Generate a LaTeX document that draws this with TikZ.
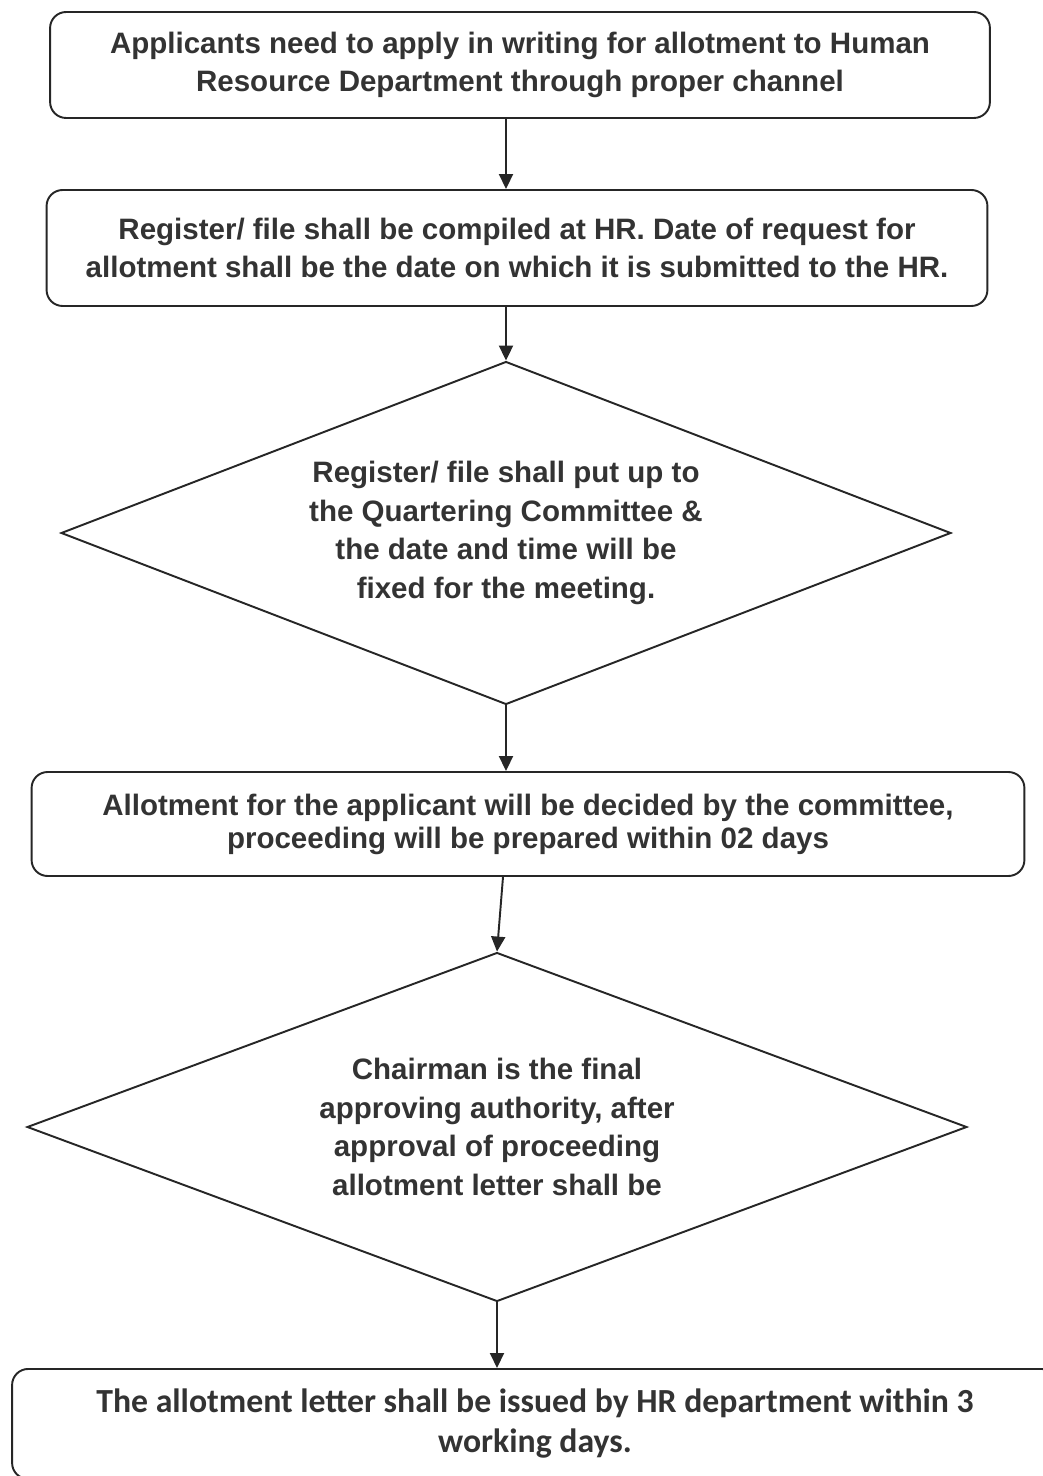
\documentclass[tikz,border=0pt]{standalone}
\usepackage{fontspec}
\setmainfont{Liberation Sans}
\newfontfamily\calfont{Carlito}
\usetikzlibrary{shapes.geometric,arrows.meta}

\tikzset{
  ink/.style={draw=black!85, line width=1.1pt},
  stepbox/.style={ink, rounded corners=0.32cm, align=center, inner sep=0pt,
    text=black!80, font=\fontsize{16.8}{21.7}\selectfont\bfseries},
  decision/.style={ink, diamond, aspect=2.6, align=center, inner sep=0pt,
    text=black!80, font=\fontsize{16.8}{21.9}\selectfont\bfseries},
  flow/.style={ink, -{Triangle[length=0.3cm,width=0.28cm]}}
}

\begin{document}
\begin{tikzpicture}[x=0.02cm,y=-0.02cm]
\clip (0,0) rectangle (1043,1476);

\node[stepbox, minimum width=18.8cm, minimum height=2.12cm] (b1) at (520,65)
  {Applicants need to apply in writing for allotment to Human\\
   Resource Department through proper channel};

\node[stepbox, minimum width=18.82cm, minimum height=2.32cm] (b2) at (517,248)
  {Register/ file shall be compiled at HR. Date of request for\\
   allotment shall be the date on which it is submitted to the HR.};

\node[decision, minimum width=17.8cm, minimum height=6.86cm] (d1) at (506,533)
  {Register/ file shall put up to\\
   the Quartering Committee \&\\
   the date and time will be\\
   fixed for the meeting.};

\node[stepbox, minimum width=19.86cm, minimum height=2.08cm,
  font=\fontsize{16.8}{18.8}\selectfont\bfseries] (b3) at (528,824)
  {Allotment for the applicant will be decided by the committee,\\
   proceeding will be prepared within 02 days};

\node[decision, minimum width=18.8cm, minimum height=6.98cm] (d2) at (497,1127)
  {Chairman is the final\\
   approving authority, after\\
   approval of proceeding\\
   allotment letter shall be};

\node[stepbox, minimum width=20.92cm, minimum height=2.2cm, anchor=north,
  font=\fontsize{19.2}{22.8}\selectfont\calfont\bfseries] (b4) at (535,1368)
  {The allotment letter shall be issued by HR department within 3\\
   working days.};

% connectors
\draw[flow] (b1.south -| d1.north) -- (b2.north -| d1.north);
\draw[flow] (b2.south -| d1.north) -- (d1.north);
\draw[flow] (d1.south) -- (d1.south |- b3.north);
\draw[flow] ([xshift=0.12cm]b3.south -| d2.north) -- (d2.north);
\draw[flow] (d2.south) -- (d2.south |- b4.north);
\end{tikzpicture}
\end{document}
